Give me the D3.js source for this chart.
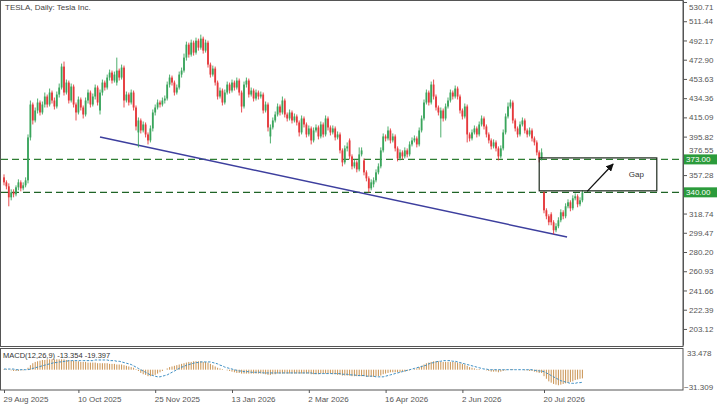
<!DOCTYPE html>
<html><head><meta charset="utf-8">
<script src="https://cdn.jsdelivr.net/npm/d3@7/dist/d3.min.js"></script>
<style>body{margin:0;background:#fff}svg{display:block}text{font-family:"Liberation Sans",Arial,sans-serif}</style>
</head><body><svg id="c" width="720" height="405"></svg>
<script>
// ---------- DATA ----------
const title = "TESLA, Daily:  Tesla Inc.";
const macdTitle = "MACD(12,26,9) -13.354 -19.397";
const opens = [
355,350,346,335,340,338,345,350,344,347,
352,395,428,412,422,430,420,428,436,428,
440,432,426,438,445,466,440,450,432,446,
428,420,433,425,418,432,440,428,436,445,
422,440,450,445,455,460,452,450,462,455,
465,432,438,430,440,425,400,412,402,408,
398,392,404,420,425,430,428,432,434,448,
455,450,440,445,458,462,475,488,478,490,
480,492,485,494,482,490,468,458,464,450,
436,442,430,440,448,442,450,445,452,440,
426,448,452,438,442,434,440,436,438,422,
428,396,405,412,418,426,420,432,418,414,
420,412,416,410,400,414,408,398,404,392,
402,405,396,408,398,414,405,400,404,395,
398,382,370,384,392,376,366,370,363,378,
372,360,354,344,348,352,360,366,382,396,
394,402,392,396,384,374,380,376,382,378,
388,392,394,388,402,414,430,440,430,448,
436,425,414,422,414,426,432,440,436,444,
436,422,416,426,398,394,400,404,398,408,
414,406,398,392,386,390,384,376,384,400,
416,426,430,412,404,398,408,412,402,398,
402,394,390,380,374,340,322,316,318,310,
302,306,312,320,316,326,330,324,334,336,
328,332];
const closes = [
350,346,335,340,338,345,350,344,347,352,
395,428,412,422,430,420,428,436,428,440,
432,426,438,445,466,440,450,432,446,428,
420,433,425,418,432,440,428,436,445,430,
440,450,445,455,460,452,458,462,455,465,
432,438,430,440,425,406,412,402,408,398,
392,404,420,425,430,428,432,434,448,455,
450,440,445,458,462,475,488,478,490,480,
492,485,494,482,490,468,458,464,450,436,
442,430,440,448,442,450,445,452,440,426,
448,452,438,442,434,440,436,438,422,428,
405,405,412,418,426,420,432,418,414,420,
412,416,410,400,414,408,398,404,392,402,
405,396,408,398,414,405,400,404,395,398,
382,370,384,386,376,366,370,363,378,382,
360,354,344,350,352,360,366,382,396,394,
402,392,396,384,374,380,376,382,378,388,
392,394,388,402,414,430,440,430,448,436,
425,420,422,414,426,432,440,436,444,436,
422,416,426,398,394,400,404,398,408,414,
406,398,392,386,390,384,376,384,400,416,
426,430,412,404,398,408,412,402,398,402,
394,390,380,374,380,322,316,310,310,302,
306,312,320,316,326,330,324,334,336,328,
332,340];
const highs = [
358,352,349,343,343,347,353,352,350,355,
398,432,430,425,434,432,431,440,438,444,
442,435,441,449,469,471,453,452,449,448,
430,436,435,427,435,443,442,439,448,447,
443,453,452,458,463,462,461,475,464,468,
467,441,440,443,442,427,415,414,411,410,
400,407,423,428,433,432,435,437,451,458,
457,452,448,461,465,479,491,490,493,492,
495,494,498,496,493,492,470,467,466,452,
445,444,443,451,450,453,452,455,454,442,
451,455,454,445,444,443,442,441,440,431,
430,408,415,421,429,428,436,434,420,423,
422,419,418,412,417,416,410,407,406,405,
408,407,411,410,417,416,407,407,406,401,
400,384,387,390,394,378,373,372,385,385,
374,362,356,353,355,363,369,385,399,398,
406,404,399,398,386,383,382,385,384,391,
395,397,396,405,417,433,443,442,451,453,
438,427,425,424,429,435,443,442,447,446,
438,424,429,428,400,403,407,406,411,417,
416,408,400,394,393,392,386,387,403,419,
430,433,432,414,406,411,415,414,404,405,
404,396,392,382,384,341,324,318,320,312,
309,315,323,322,329,333,332,337,339,338,
335,342];
const lows = [
347,343,326,332,335,336,342,341,342,345,
349,392,408,410,419,417,418,425,425,426,
429,423,424,435,443,437,438,429,430,425,
412,418,422,414,416,429,425,426,433,427,
418,437,442,443,452,449,450,447,452,453,
425,430,427,428,422,402,385,399,400,395,
388,390,401,417,423,425,426,429,432,445,
447,437,438,443,455,460,472,475,476,477,
478,482,483,479,480,465,455,456,447,433,
434,427,428,438,439,440,442,443,437,420,
424,445,435,436,431,432,433,434,419,420,
401,389,403,410,416,417,418,415,411,412,
409,410,407,396,398,405,395,396,388,390,
400,393,394,395,396,402,397,398,392,393,
379,366,368,381,373,363,364,360,361,376,
357,351,340,342,345,350,358,364,380,391,
392,389,390,381,371,372,373,374,375,376,
386,390,385,386,400,412,428,427,428,433,
422,417,395,411,412,424,430,433,434,433,
419,413,414,390,391,392,398,395,396,406,
403,395,389,383,384,381,372,374,382,398,
414,424,409,401,395,396,406,399,395,396,
391,387,377,370,372,319,313,307,307,298,
300,304,310,313,314,324,321,322,332,325,
326,330];
const macdMain = [
1,1,0,-1,-2,-2,-2,-1,-1,0,
3,7,10,12,13,14,15,15,16,16,
16,16,16,16,16,16,15,15,14,14,
13,13,12,12,12,11,11,11,11,10,
10,10,10,10,9,9,9,8,8,8,
7,6,5,4,3,1,-2,-5,-7,-8,
-10,-10,-9,-8,-6,-4,-2,0,2,4,
5,6,7,8,9,10,11,12,12,13,
13,13,13,12,12,11,9,7,5,3,
2,1,0,-1,-2,-3,-4,-5,-5,-6,
-6,-6,-6,-6,-6,-6,-6,-6,-6,-7,
-8,-8,-7,-7,-6,-6,-6,-6,-6,-6,
-6,-6,-6,-6,-6,-6,-6,-6,-7,-7,
-7,-7,-6,-6,-6,-6,-6,-7,-7,-8,
-8,-9,-9,-9,-9,-10,-10,-10,-10,-10,
-10,-11,-11,-11,-11,-10,-10,-9,-7,-6,
-5,-4,-4,-4,-4,-4,-3,-3,-2,-1,
0,1,2,4,6,8,10,11,12,13,
13,13,12,12,12,12,12,12,12,11,
10,9,8,6,4,3,2,1,1,0,
0,-1,-2,-3,-3,-3,-4,-3,-2,-1,
0,1,1,0,0,0,0,-1,-1,-2,
-2,-3,-4,-5,-5,-10,-14,-18,-20,-22,
-23,-24,-23,-22,-21,-20,-19,-18,-16,-15,
-14,-13.354];
const macdSignal = [
1,1,1,1,1,0,0,0,0,0,
0,1,2,3,4,5,6,7,8,9,
10,11,11,12,12,13,13,14,14,14,
14,14,14,14,14,14,14,14,15,15,
15,15,15,15,14,14,14,13,13,12,
11,10,9,8,6,4,2,0,-2,-4,
-6,-8,-9,-10,-11,-11,-10,-9,-8,-6,
-4,-2,0,2,4,5,7,8,9,10,
11,11,12,12,12,12,12,11,10,9,
7,6,4,3,2,1,0,-1,-2,-2,
-3,-3,-3,-4,-4,-4,-4,-4,-5,-5,
-5,-5,-5,-5,-5,-5,-5,-5,-5,-5,
-5,-5,-5,-5,-5,-5,-5,-5,-5,-6,
-6,-6,-6,-6,-6,-6,-6,-6,-6,-6,
-6,-7,-7,-7,-8,-8,-8,-9,-9,-9,
-9,-10,-10,-10,-10,-11,-11,-11,-11,-10,
-9,-8,-7,-6,-5,-4,-3,-2,-1,0,
1,2,3,4,5,6,7,9,10,11,
12,13,13,14,14,14,14,13,13,12,
11,10,9,8,7,6,5,4,3,2,
1,1,0,0,0,0,0,0,0,0,
0,0,0,0,0,0,0,0,0,0,
0,-1,-1,-2,-2,-3,-5,-7,-9,-11,
-13,-15,-17,-18,-19,-20,-21,-21,-21,-20,
-20,-19.397];
const priceTicks = [530.71,511.44,492.17,472.90,453.63,434.36,415.09,395.82,376.55,357.28,338.01,318.74,299.47,280.20,260.93,241.66,222.39,203.12];
const macdRange = [-31.309, 33.478];
const dateTicks = [0,31,63,95,127,159,191,225];
const dateLabels = ["29 Aug 2025","10 Oct 2025","25 Nov 2025","13 Jan 2026","2 Mar 2026","16 Apr 2026","2 Jun 2026","20 Jul 2026"];
const levels = [373, 340];
const levelLabels = ["373.00","340.00"];
const trendPts = [[40,395.4],[234.6,295.2]];
const boxBars = [223, 272];
const boxPrices = [374.5, 341.5];
const boxLabel = "Gap";
const arrowPts = [[243,341],[253.8,368.4]];

// ---------- DRAW ----------
const svg = d3.select("#c");
const AX = 683;
const x = d3.scaleLinear().domain([0, 283]).range([4, 683.2]);
const y = d3.scaleLinear().domain([187.03, 532.71]).range([345, 0]);
const ym = d3.scaleLinear().domain(macdRange).range([390, 348]);
const FONT = '"Liberation Sans",Arial,sans-serif';

const defs = svg.append("defs");
defs.append("clipPath").attr("id","mainClip").append("rect").attr("x",1).attr("y",1).attr("width",AX-1).attr("height",345);
defs.append("clipPath").attr("id","macdClip").append("rect").attr("x",1).attr("y",349).attr("width",AX-1).attr("height",41);
defs.append("marker").attr("id","ah").attr("viewBox","0 0 10 10").attr("refX",9).attr("refY",5)
  .attr("markerWidth",6).attr("markerHeight",6).attr("orient","auto")
  .append("path").attr("d","M0,0L10,5L0,10z").attr("fill","#111");

// frames
svg.append("rect").attr("x",0.5).attr("y",0.5).attr("width",AX-0.5).attr("height",346).attr("fill","none").attr("stroke","#555");
svg.append("rect").attr("x",0.5).attr("y",348.5).attr("width",AX-0.5).attr("height",41.5).attr("fill","none").attr("stroke","#555");

// price axis (labels hidden behind the level tags are left blank, as in the reference)
const tagYs = levels.map(v=>y(v));
const ya = svg.append("g").attr("transform",`translate(${AX},0)`)
  .call(d3.axisRight(y).tickValues(priceTicks).tickSize(4).tickSizeOuter(0).tickPadding(2)
    .tickFormat(v=>tagYs.some(t=>Math.abs(t-y(v))<3)?"":d3.format(".2f")(v)));
ya.select(".domain").attr("stroke","#555");
ya.selectAll(".tick line").attr("stroke","#555");
ya.selectAll("text").attr("font-size",8).attr("fill","#555").attr("font-family",FONT)
  .attr("dy",function(v){
    const yy=y(v);
    if (yy<4) return "0.9em";
    if (tagYs.some(t=>Math.abs(t-yy)>=3 && Math.abs(t-yy)<10)) return "-0.45em";
    return "0.32em";
  });

// date axis
const xa = svg.append("g").attr("transform","translate(0,390)")
  .call(d3.axisBottom(x).tickValues(dateTicks).tickSize(3).tickSizeOuter(0).tickPadding(3).tickFormat((d,k)=>dateLabels[k]));
xa.select(".domain").remove();
xa.selectAll(".tick line").attr("stroke","#555");
xa.selectAll("text").attr("font-size",8).attr("fill","#555").attr("font-family",FONT).attr("text-anchor","start").attr("dx",-1);

// title
svg.append("text").attr("x",5).attr("y",10).attr("font-size",8).attr("fill","#444").text(title);

const main = svg.append("g").attr("clip-path","url(#mainClip)");

// horizontal levels
main.selectAll("line.level").data(levels).join("line").attr("class","level")
  .attr("x1",1).attr("x2",AX).attr("y1",d=>y(d)).attr("y2",d=>y(d))
  .attr("stroke",(d,k)=>k===0?"#2e7d32":"#1f6426").attr("stroke-width",(d,k)=>k===0?1.1:1.4)
  .attr("stroke-dasharray","7,4");

// trendline
main.append("line").attr("x1",x(trendPts[0][0])).attr("y1",y(trendPts[0][1]))
  .attr("x2",x(trendPts[1][0])).attr("y2",y(trendPts[1][1]))
  .attr("stroke","#3d3f9e").attr("stroke-width",1.5);

// candles
const idx = d3.range(closes.length);
const cg = main.append("g");
cg.selectAll("line.w").data(idx).join("line").attr("class","w")
  .attr("x1",i=>x(i)).attr("x2",i=>x(i)).attr("y1",i=>y(highs[i])).attr("y2",i=>y(lows[i]))
  .attr("stroke",i=>closes[i]>=opens[i]?"#3aa55c":"#e5383b").attr("stroke-width",0.9);
cg.selectAll("rect.b").data(idx).join("rect").attr("class","b")
  .attr("x",i=>x(i)-0.9).attr("width",1.8)
  .attr("y",i=>y(Math.max(opens[i],closes[i])))
  .attr("height",i=>Math.max(1,Math.abs(y(opens[i])-y(closes[i]))))
  .attr("fill",i=>closes[i]>=opens[i]?"#3aa55c":"#e5383b");

// gap box
main.append("rect").attr("x",x(boxBars[0])).attr("y",y(boxPrices[0]))
  .attr("width",x(boxBars[1])-x(boxBars[0])).attr("height",y(boxPrices[1])-y(boxPrices[0]))
  .attr("fill","none").attr("stroke","#1d2a1d").attr("stroke-width",1.2);
main.append("text").attr("x",x(boxBars[1])-28).attr("y",(y(boxPrices[0])+y(boxPrices[1]))/2+3)
  .attr("font-size",8).attr("fill","#333").text(boxLabel);

// arrow
main.append("line").attr("x1",x(arrowPts[0][0])).attr("y1",y(arrowPts[0][1]))
  .attr("x2",x(arrowPts[1][0])).attr("y2",y(arrowPts[1][1]))
  .attr("stroke","#111").attr("stroke-width",1.3).attr("marker-end","url(#ah)");

// level tags
const tags = svg.append("g");
levels.forEach((v,k)=>{
  tags.append("rect").attr("x",AX+1).attr("y",y(v)-5).attr("width",33).attr("height",10).attr("fill","#2b9b3b");
  tags.append("text").attr("x",AX+3).attr("y",y(v)+3).attr("font-size",8).attr("fill","#fff").text(levelLabels[k]);
});

// MACD
const mg = svg.append("g").attr("clip-path","url(#macdClip)");
mg.selectAll("line.h").data(idx).join("line").attr("class","h")
  .attr("x1",i=>x(i)).attr("x2",i=>x(i)).attr("y1",ym(0)).attr("y2",i=>ym(macdMain[i]))
  .attr("stroke","#c99251").attr("stroke-width",1);
mg.append("path").datum(idx)
  .attr("d",d3.line().x(i=>x(i)).y(i=>ym(macdSignal[i])))
  .attr("fill","none").attr("stroke","#3e8fc4").attr("stroke-width",1).attr("stroke-dasharray","2.5,1.5");
svg.append("text").attr("x",3).attr("y",358).attr("font-size",7.5).attr("fill","#333").text(macdTitle);
svg.append("text").attr("x",687).attr("y",356).attr("font-size",8).attr("fill","#555").text(d3.format(".3f")(macdRange[1]));
svg.append("text").attr("x",684).attr("y",390).attr("font-size",8).attr("fill","#555").text(d3.format(".3f")(macdRange[0]));
</script></body></html>
